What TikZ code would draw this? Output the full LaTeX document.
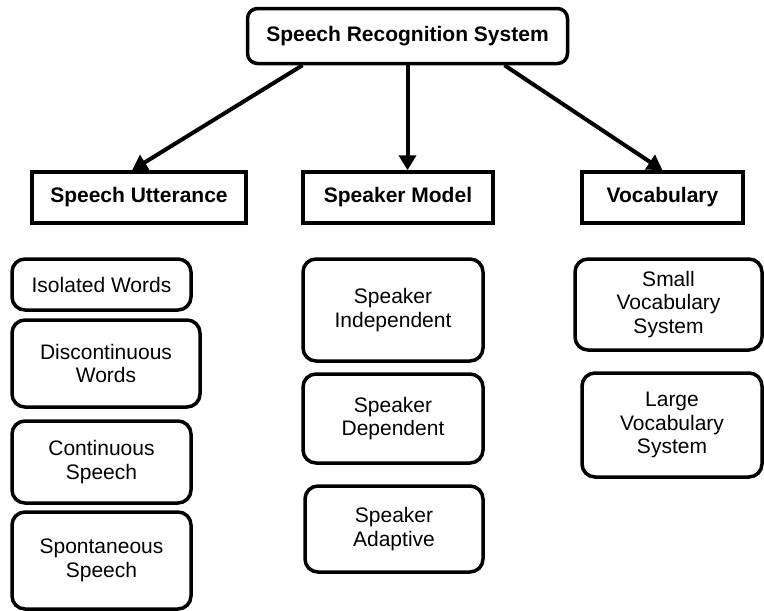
\documentclass[tikz,border=0pt]{standalone}
\usepackage{fontspec}
\setmainfont{Liberation Sans}
\usetikzlibrary{arrows.meta}

\begin{document}
\begin{tikzpicture}[x = 1pt, y = -1pt,
        every node/.style = {font = \fontsize{21}{23.5}\selectfont, align = center, inner sep = 0pt},
        head/.style = {draw = black, line width = 3.5pt, minimum height = 51pt, font = \fontsize{21}{23.5}\selectfont\bfseries},
        leaf/.style = {draw = black, line width = 3.5pt, rounded corners = 13pt},
        arr/.style = {black, line width = 4pt, -{Triangle[length = 15pt, width = 17pt]}}]
            \useasboundingbox (0, 0) rectangle (764, 611);
            \node[head, rounded corners = 10pt, minimum width = 320pt, minimum height = 55pt] (srs) at (407.5, 36) {Speech Recognition System};
            \node[head, minimum width = 214pt] (utt) at (139, 197.5) {Speech Utterance};
            \node[head, minimum width = 190pt] (model) at (398, 197.5) {Speaker Model};
            \node[head, minimum width = 161pt] (vocab) at (662.5, 197.5) {Vocabulary};
            \draw[arr] ([xshift = -105pt]srs.south) -- ([xshift = -7pt]utt.north);
            \draw[arr] (srs.south) -- (srs.south |- model.north);
            \draw[arr] ([xshift = 97pt]srs.south) -- (vocab.north);
            \node[leaf, minimum width = 179pt, minimum height = 51pt] (isolated) at (101.5, 284.5) {Isolated Words};
            \node[leaf, minimum width = 188pt, minimum height = 87pt] (discont) at (106, 363.5) {Discontinuous\\Words};
            \node[leaf, minimum width = 179pt, minimum height = 82pt] (cont) at (101.5, 462) {Continuous\\Speech};
            \node[leaf, minimum width = 179pt, minimum height = 97pt] (spont) at (101.5, 560.5) {Spontaneous\\Speech};
            \node[leaf, minimum width = 180pt, minimum height = 102pt] (indep) at (393, 310) {Speaker\\Independent};
            \node[leaf, minimum width = 180pt, minimum height = 89pt] (dep) at (393, 418.5) {Speaker\\Dependent};
            \node[leaf, minimum width = 178pt, minimum height = 86pt] (adapt) at (394, 529) {Speaker\\Adaptive};
            \node[leaf, minimum width = 187pt, minimum height = 91pt] (small) at (668.5, 304.5) {Small\\Vocabulary\\System};
            \node[leaf, minimum width = 180pt, minimum height = 104pt] (large) at (672, 425) {Large\\Vocabulary\\System};
\end{tikzpicture}
\end{document}
